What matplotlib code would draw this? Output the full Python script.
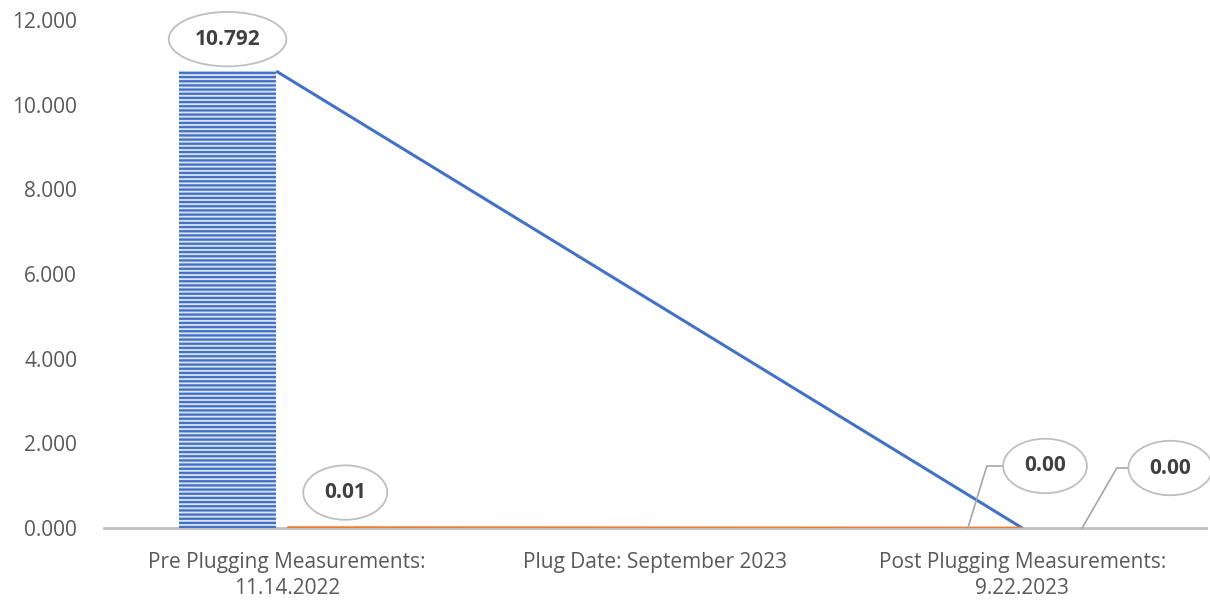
import matplotlib
matplotlib.use("Agg")
import matplotlib.pyplot as plt

plt.rcParams['font.family'] = ['Open Sans', 'DejaVu Sans']
plt.rcParams['hatch.linewidth'] = 1.7

# ---- data ----
categories = ["Pre Plugging Measurements:\n11.14.2022",
              "Plug Date: September 2023",
              "Post Plugging Measurements:\n9.22.2023"]
bar_value = 10.792            # pre-plugging bar
blue_values = [10.792, 0.0]   # line: pre -> post
orange_values = [0.01, 0.0]   # line: pre -> post
label_pre_bar = "10.792"
label_pre_orange = "0.01"
label_post = ["0.00", "0.00"]
yticks = [0, 2, 4, 6, 8, 10, 12]

BLUE = "#4472C4"
ORANGE = "#ED7D31"
GRAY = "#BFBFBF"
TXT = "#595959"
LBL = "#404040"

W, H = 1210, 603
fig = plt.figure(figsize=(W / 100, H / 100), dpi=100)
ax = fig.add_axes([103.5 / W, (H - 528) / H, (1206 - 103.5) / W, (528 - 20) / H])

x = list(range(len(categories)))
bar_w = 0.265
bar_x = x[0] - bar_w / 2 - 0.03
ax.bar([bar_x], [bar_value], width=bar_w, color="#dce5f5", edgecolor=BLUE,
       hatch="----", linewidth=0, zorder=2)

# lines
ax.plot([bar_x + bar_w / 2, x[2]], blue_values, color=BLUE, lw=2.2,
        solid_capstyle="butt", zorder=3)
ax.plot([x[0], x[2]], orange_values, color=ORANGE, lw=2.0,
        solid_capstyle="butt", zorder=3)

ax.set_xlim(-0.5, 2.5)
ax.set_ylim(0, 12)
ax.set_yticks(yticks)
ax.set_yticklabels([f"{v:.3f}" for v in yticks])
ax.set_xticks(x)
ax.set_xticklabels(categories, linespacing=1.35)
ax.tick_params(axis="y", length=0, pad=19, labelsize=15, labelcolor=TXT)
ax.tick_params(axis="x", length=0, pad=17, labelsize=15, labelcolor=TXT)
for s in ["top", "right", "left"]:
    ax.spines[s].set_visible(False)
ax.spines["bottom"].set_color(GRAY)
ax.spines["bottom"].set_linewidth(2.0)
ax.spines["bottom"].set_zorder(1)

bbox = dict(boxstyle="ellipse,pad=0.42", fc="white", ec=GRAY, lw=1.3)
fs = 15

ax.annotate(label_pre_bar, xy=(bar_x, bar_value), xytext=(0, 32),
            textcoords="offset pixels", ha="center", va="center",
            fontsize=fs, fontweight="bold", color=LBL, bbox=bbox)
ax.annotate(label_pre_orange, xy=(x[0], orange_values[0]), xytext=(58, 35),
            textcoords="offset pixels", ha="center", va="center",
            fontsize=fs, fontweight="bold", color=LBL, bbox=bbox)

# post labels with leader lines
ax.annotate(label_post[0], xy=(1.852, 0), xytext=(2.062, 1.465),
            textcoords="data", ha="center", va="center",
            fontsize=fs, fontweight="bold", color=LBL, bbox=bbox,
            arrowprops=dict(arrowstyle="-", color="#A6A6A6", lw=1.2,
                            connectionstyle="angle,angleA=180,angleB=73,rad=0",
                            shrinkA=0, shrinkB=0))
ax.annotate(label_post[1], xy=(2.163, 0), xytext=(2.403, 1.417),
            textcoords="data", ha="center", va="center",
            fontsize=fs, fontweight="bold", color=LBL, bbox=bbox,
            arrowprops=dict(arrowstyle="-", color="#A6A6A6", lw=1.2,
                            connectionstyle="angle,angleA=180,angleB=60,rad=0",
                            shrinkA=0, shrinkB=0))

fig.savefig("out.png", dpi=100)
